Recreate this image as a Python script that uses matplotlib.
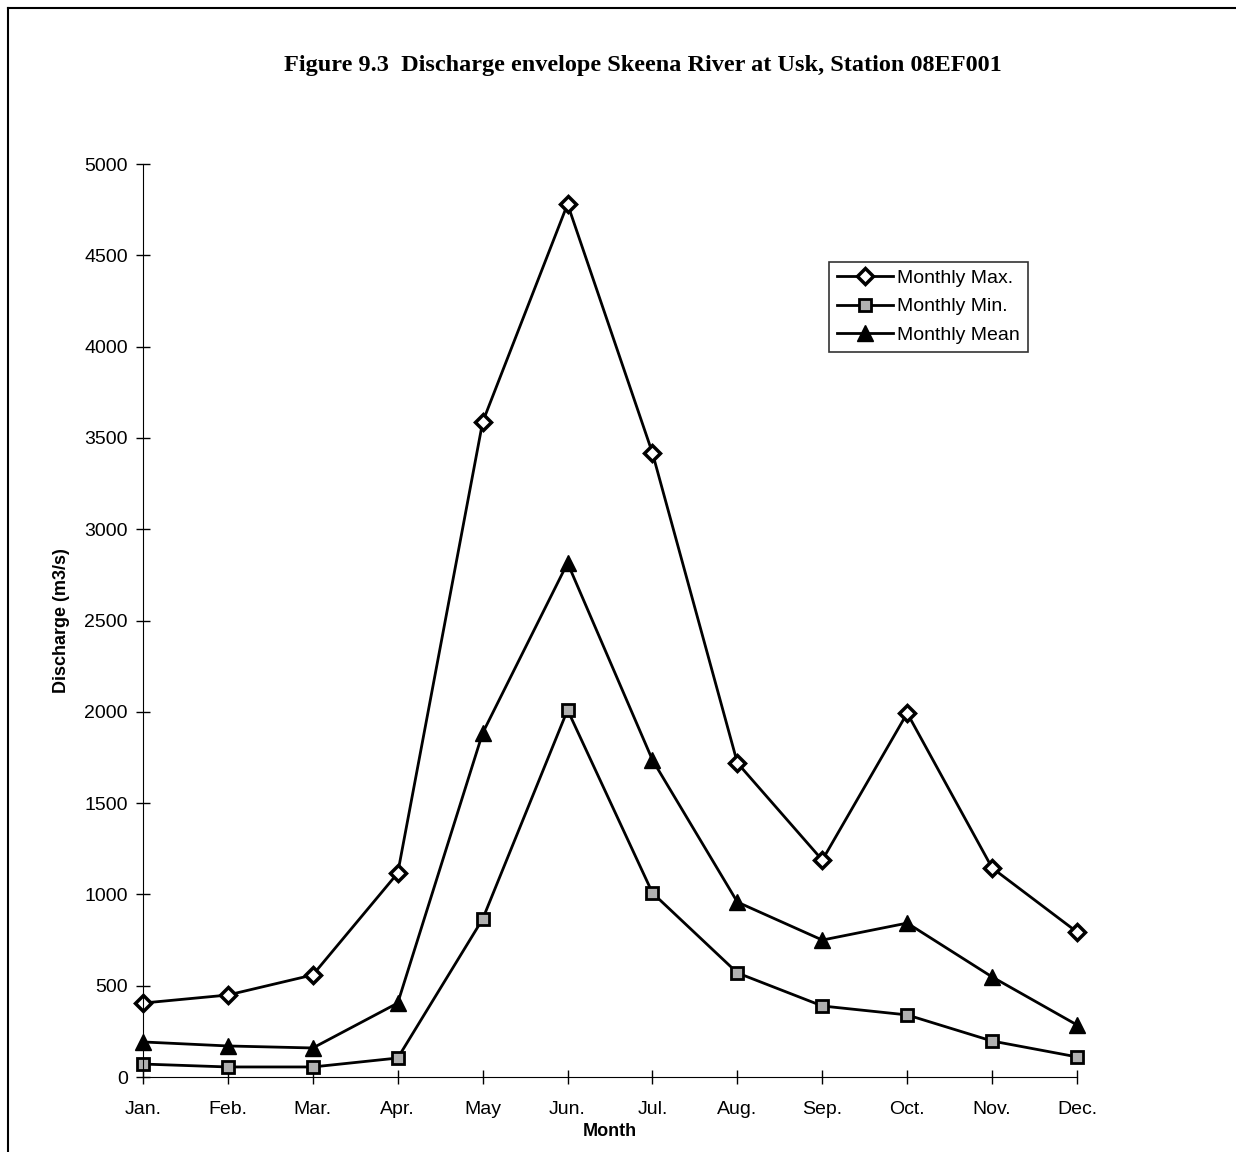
import matplotlib.pyplot as plt
from matplotlib.lines import Line2D

months = ["Jan.", "Feb.", "Mar.", "Apr.", "May", "Jun.", "Jul.", "Aug.", "Sep.", "Oct.", "Nov.", "Dec."]
monthly_max = [405, 449, 559, 1117, 3587, 4781, 3417, 1720, 1188, 1993, 1145, 794]
monthly_min = [71, 55, 55, 104, 865, 2010, 1008, 570, 389, 340, 197, 110]
monthly_mean = [192, 170, 159, 405, 1884, 2815, 1736, 958, 750, 843, 548, 285]
yticks = [0, 500, 1000, 1500, 2000, 2500, 3000, 3500, 4000, 4500, 5000]

plt.rcParams['font.family'] = ['Liberation Sans', 'DejaVu Sans']

fig = plt.figure(figsize=(12.36, 11.52), dpi=100)
ax = fig.add_axes([0.1157, 0.0651, 0.7557, 0.7925])

x = list(range(len(months)))
ax.plot(x, monthly_max, color='black', lw=2, marker='D', ms=8,
        mfc='white', mec='black', mew=2.5, label='Monthly Max.', clip_on=False)
ax.plot(x, monthly_min, color='black', lw=2, marker='s', ms=9,
        mfc='#b0b0b0', mec='black', mew=2, label='Monthly Min.', clip_on=False)
ax.plot(x, monthly_mean, color='black', lw=2, marker='^', ms=11,
        mfc='black', mec='black', label='Monthly Mean', clip_on=False)

ax.set_xlim(0, 11)
ax.set_ylim(0, 5000)
ax.set_xticks(x)
ax.set_xticklabels(months)
ax.set_yticks(yticks)
ax.tick_params(direction='inout', length=10, width=1, labelsize=14)
ax.tick_params(axis='x', pad=12)
ax.tick_params(axis='y', pad=6)
for s in ['top', 'right']:
    ax.spines[s].set_visible(False)

ax.set_xlabel("Month", fontsize=13, fontweight='bold', labelpad=4)
ax.set_ylabel("Discharge (m3/s)", fontsize=13, fontweight='bold', labelpad=10)

leg = ax.legend(loc='upper left', bbox_to_anchor=(0.7345, 0.893), fontsize=14,
                frameon=True, fancybox=False, edgecolor='black', handlelength=2.9,
                borderpad=0.4, labelspacing=0.55, handletextpad=0.2, borderaxespad=0)
leg.get_frame().set_linewidth(1.2)

fig.text(0.52, 0.943, "Figure 9.3  Discharge envelope Skeena River at Usk, Station 08EF001",
         ha='center', va='center', fontsize=17.5, fontweight='bold', family='Liberation Serif')

# page border
fig.add_artist(Line2D([8/1236, 1], [1 - 8/1152, 1 - 8/1152], transform=fig.transFigure, color='black', lw=1.5))
fig.add_artist(Line2D([8/1236, 8/1236], [0, 1 - 8/1152], transform=fig.transFigure, color='black', lw=1.5))

fig.savefig("out.png", dpi=100)
